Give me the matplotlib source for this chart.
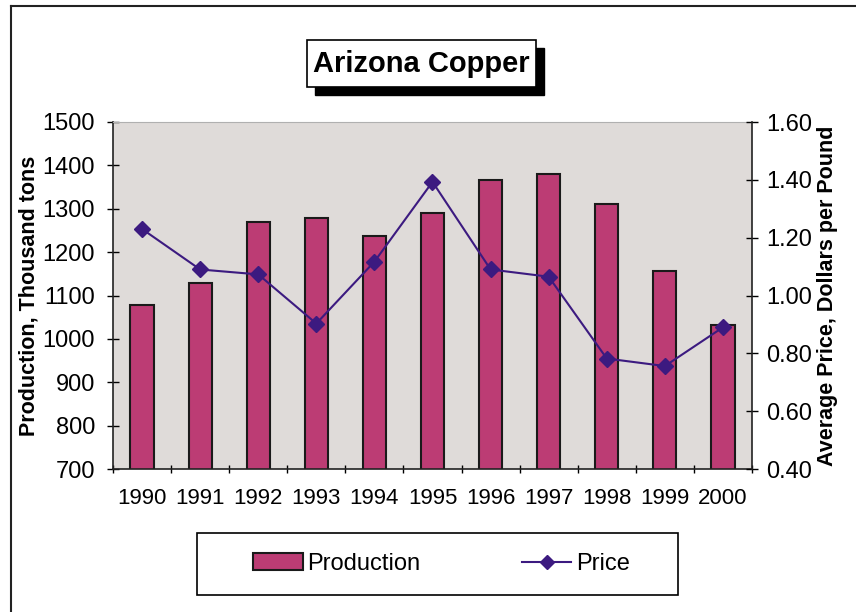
import numpy as np
import matplotlib.pyplot as plt
from matplotlib.patches import Rectangle
from matplotlib.lines import Line2D

plt.rcParams['font.family'] = ['Liberation Sans', 'DejaVu Sans']

years = ['1990', '1991', '1992', '1993', '1994', '1995', '1996', '1997', '1998', '1999', '2000']
production = [1078, 1129, 1270, 1279, 1237, 1291, 1367, 1380, 1312, 1156, 1031]
price = [1.23, 1.09, 1.073, 0.903, 1.117, 1.393, 1.09, 1.065, 0.782, 0.756, 0.89]

bar_color = '#BC3C74'
line_color = '#3C1A80'

fig = plt.figure(figsize=(8.56, 6.12), dpi=100)
ax = fig.add_axes([113/856, 1 - 469/612, (752 - 113)/856, (469 - 122)/612])
ax.set_facecolor('#DFDBD9')

x = np.arange(len(years))
ax.bar(x, production, width=0.4, color=bar_color, edgecolor='#1a1a1a', linewidth=1.5, zorder=2)
ax.set_xlim(-0.5, len(years) - 0.5)
ax.set_ylim(700, 1500)
ax.set_yticks(np.arange(700, 1501, 100))
ax.set_xticks(x)
ax.set_xticklabels(years)
ax.set_xticks(np.arange(-0.5, len(years)), minor=True)
ax.tick_params(axis='x', which='major', length=0, pad=14, labelsize=16)
ax.tick_params(axis='x', which='minor', length=6, direction='inout', width=1)
ax.tick_params(axis='y', length=8, direction='inout', width=1, labelsize=17, pad=9)
ax.set_ylabel('Production, Thousand tons', fontsize=15.5, fontweight='bold', labelpad=2)

for s in ['left', 'bottom']:
    ax.spines[s].set_color('#222222')
    ax.spines[s].set_linewidth(1.2)
ax.spines['top'].set_color('#b0b0b0')
ax.spines['right'].set_visible(False)

ax2 = ax.twinx()
ax2.plot(x, price, color=line_color, marker='D', markersize=8, linewidth=1.5, zorder=3)
ax2.set_ylim(0.4, 1.6)
ax2.set_yticks(np.arange(0.4, 1.61, 0.2))
ax2.set_yticklabels([f'{v:.2f}' for v in np.arange(0.4, 1.61, 0.2)])
ax2.tick_params(axis='y', length=8, direction='inout', width=1, labelsize=17, pad=6)
ax2.set_ylabel('Average Price, Dollars per Pound', fontsize=15.5, fontweight='bold', labelpad=4)
for s in ['left', 'bottom', 'top']:
    ax2.spines[s].set_visible(False)
ax2.spines['right'].set_color('#222222')
ax2.spines['right'].set_linewidth(1.2)

# title box with shadow
tx0, ty0, tw, th = 307/856, 1 - 87/612, (536 - 307)/856, (87 - 40)/612
fig.patches.append(Rectangle((tx0 + 8/856, ty0 - 8/612), tw, th, transform=fig.transFigure,
                             facecolor='black', edgecolor='black', zorder=1))
fig.patches.append(Rectangle((tx0, ty0), tw, th, transform=fig.transFigure,
                             facecolor='white', edgecolor='black', linewidth=1.2, zorder=2))
fig.text(tx0 + tw/2, ty0 + th/2, 'Arizona Copper', ha='center', va='center',
         fontsize=21, fontweight='bold', zorder=3)

# legend box
fig.patches.append(Rectangle((197/856, 1 - 595/612), (678 - 197)/856, (595 - 533)/612,
                             transform=fig.transFigure, facecolor='white', edgecolor='black',
                             linewidth=1.2, zorder=1))
handles = [Rectangle((0, 0), 1, 1, facecolor=bar_color, edgecolor='#1a1a1a', linewidth=1.5),
           Line2D([], [], color=line_color, marker='D', markersize=7, linewidth=1.5)]
leg = fig.legend(handles, ['Production', 'Price'], loc='center',
                 bbox_to_anchor=((197 + 678) / 2 / 856 + 4/856, 1 - 564/612),
                 ncol=2, fontsize=17, frameon=False,
                 columnspacing=4.3, handlelength=2.1, handletextpad=0.2,
                 borderaxespad=0, borderpad=0.8)
leg.set_zorder(3)

# outer frame (left and top edges)
fig.add_artist(Line2D([11/856, 11/856], [0, 1 - 6/612], transform=fig.transFigure, color='#222222', linewidth=1.5))
fig.add_artist(Line2D([11/856, 1], [1 - 6/612, 1 - 6/612], transform=fig.transFigure, color='#222222', linewidth=1.5))

fig.savefig('out.png', dpi=100)
